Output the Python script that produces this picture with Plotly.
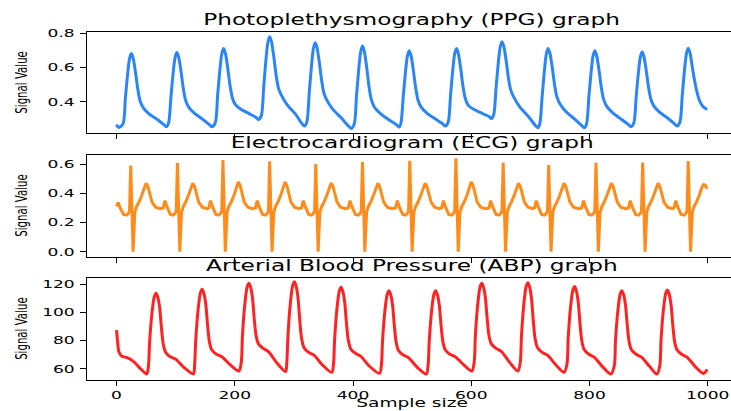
import plotly.graph_objects as go

# ---------------- data ----------------
PPG_POINTS = [
    (0, .268), (2, .256), (4, .252), (11, .273), (15, .424), (19, .569), (22, .651), (25, .681), (28, .656), (32, .574), (36, .474), (40, .405), (45, .367), (55, .331), (69, .298), (80, .268),
    (84, .256), (88, .278), (92, .428), (96, .575), (99, .657), (102, .687), (105, .662), (109, .579), (113, .478), (117, .408), (122, .370), (132, .334), (146, .299), (157, .268),
    (161, .256), (167, .279), (171, .438), (175, .592), (178, .678), (181, .710), (184, .684), (188, .599), (192, .495), (196, .423), (201, .384), (211, .356), (225, .331), (236, .310),
    (240, .298), (245, .322), (249, .490), (253, .654), (256, .745), (259, .779), (262, .752), (266, .663), (270, .554), (274, .479), (279, .438), (289, .381), (303, .328), (314, .272),
    (318, .260), (322, .284), (326, .454), (330, .618), (333, .710), (336, .744), (339, .717), (343, .630), (347, .523), (351, .449), (356, .409), (366, .357), (380, .308), (393, .258),
    (397, .246), (402, .270), (406, .438), (410, .600), (413, .691), (416, .725), (419, .697), (423, .605), (427, .491), (431, .413), (436, .371), (446, .334), (460, .298), (474, .266),
    (478, .254), (481, .276), (485, .431), (489, .582), (492, .666), (495, .697), (498, .671), (502, .586), (506, .482), (510, .410), (515, .371), (525, .335), (539, .302), (552, .272),
    (556, .260), (561, .283), (565, .440), (569, .593), (572, .679), (575, .710), (578, .684), (582, .598), (586, .492), (590, .420), (595, .380), (605, .356), (619, .333), (630, .316),
    (634, .304), (638, .326), (642, .482), (646, .634), (649, .719), (652, .750), (655, .724), (659, .641), (663, .537), (667, .467), (672, .428), (682, .371), (696, .318), (709, .262),
    (713, .250), (716, .273), (720, .434), (724, .590), (727, .678), (730, .710), (733, .684), (737, .601), (741, .499), (745, .428), (750, .390), (760, .345), (774, .303), (787, .262),
    (791, .250), (795, .272), (799, .429), (803, .581), (806, .666), (809, .697), (812, .671), (816, .588), (820, .485), (824, .415), (829, .376), (839, .338), (853, .302), (866, .268),
    (870, .256), (875, .278), (879, .430), (883, .577), (886, .660), (889, .690), (892, .665), (896, .583), (900, .483), (904, .414), (909, .376), (919, .339), (933, .304), (944, .272),
    (948, .260), (953, .283), (957, .441), (961, .594), (964, .680), (967, .712), (970, .686), (974, .600), (978, .520), (982, .455), (987, .400), (993, .370), (999, .357),
]

ECG_POINTS = [
    (0, .31), (3, .338), (6, .30), (9, .275), (12, .255), (17, .25), (20, .262), (22, .28),
    (24, .59), (28, .0), (31, .27), (34, .31), (38, .34), (43, .39), (47, .44), (50, .468), (53, .448), (56, .40), (60, .34), (66, .305), (74, .295),
    (79, .30), (82, .35), (85, .31), (88, .275), (91, .255), (96, .25), (99, .262), (101, .28),
    (103, .607), (107, .0), (110, .27), (113, .31), (117, .34), (122, .39), (126, .44), (129, .468), (132, .448), (135, .40), (139, .34), (145, .305), (153, .295),
    (156, .30), (159, .35), (162, .31), (165, .275), (168, .255), (173, .25), (176, .262), (178, .28),
    (180, .628), (184, .0), (187, .27), (190, .31), (194, .34), (199, .39), (203, .445), (206, .478), (209, .455), (212, .40), (216, .34), (222, .305), (230, .295),
    (235, .30), (238, .35), (241, .31), (244, .275), (247, .255), (252, .25), (255, .262), (257, .28),
    (259, .619), (263, .0), (266, .27), (269, .31), (273, .34), (278, .39), (282, .445), (285, .478), (288, .455), (291, .40), (295, .34), (301, .305), (309, .295),
    (313, .30), (316, .35), (319, .31), (322, .275), (325, .255), (330, .25), (333, .262), (335, .28),
    (337, .60), (341, .0), (344, .27), (347, .31), (351, .34), (356, .39), (360, .44), (363, .47), (366, .45), (369, .40), (373, .34), (379, .305), (387, .295),
    (392, .30), (395, .35), (398, .31), (401, .275), (404, .255), (409, .25), (412, .262), (414, .28),
    (416, .614), (420, .0), (423, .27), (426, .31), (430, .34), (435, .39), (439, .44), (442, .468), (445, .448), (448, .40), (452, .34), (458, .305), (466, .295),
    (472, .30), (475, .35), (478, .31), (481, .275), (484, .255), (489, .25), (492, .262), (494, .28),
    (496, .623), (500, .0), (503, .27), (506, .31), (510, .34), (515, .39), (519, .44), (522, .468), (525, .448), (528, .40), (532, .34), (538, .305), (546, .295),
    (550, .30), (553, .35), (556, .31), (559, .275), (562, .255), (567, .25), (570, .262), (572, .28),
    (574, .64), (578, .0), (581, .27), (584, .31), (588, .34), (593, .39), (597, .445), (600, .478), (603, .455), (606, .40), (610, .34), (616, .305), (624, .295),
    (630, .30), (633, .35), (636, .31), (639, .275), (642, .255), (647, .25), (650, .262), (652, .28),
    (654, .61), (658, .0), (661, .27), (664, .31), (668, .34), (673, .39), (677, .44), (680, .468), (683, .448), (686, .40), (690, .34), (696, .305), (704, .295),
    (707, .30), (710, .35), (713, .31), (716, .275), (719, .255), (724, .25), (727, .262), (729, .28),
    (731, .594), (735, .0), (738, .27), (741, .31), (745, .34), (750, .39), (754, .44), (757, .468), (760, .448), (763, .40), (767, .34), (773, .305), (781, .295),
    (787, .30), (790, .35), (793, .31), (796, .275), (799, .255), (804, .25), (807, .262), (809, .28),
    (811, .61), (815, .0), (818, .27), (821, .31), (825, .34), (830, .39), (834, .44), (837, .468), (840, .448), (843, .40), (847, .34), (853, .305), (861, .295),
    (866, .30), (869, .35), (872, .31), (875, .275), (878, .255), (883, .25), (886, .262), (888, .28),
    (890, .61), (894, .0), (897, .27), (900, .31), (904, .34), (909, .39), (913, .44), (916, .468), (919, .448), (922, .40), (926, .34), (932, .305), (940, .295),
    (943, .30), (946, .35), (949, .31), (952, .275), (955, .255), (960, .25), (963, .262), (965, .28),
    (967, .62), (971, .0), (974, .27), (977, .31), (981, .34), (986, .39), (990, .44), (993, .46), (996, .455), (999, .43),
]

ABP_POINTS = [
    (0, 87.4), (2, 78.5), (4, 72.0), (9, 68.8), (18, 67.8), (29, 65.0), (40, 60.3), (51, 56.2),
    (54, 61.9), (56, 79.1), (60, 99.7), (64, 111.2), (67, 113.5), (70, 110.4), (73, 103.2), (76, 88.8), (79, 77.5), (83, 71.7), (91, 68.5), (100, 66.8), (114, 60.9), (130, 56.2),
    (132, 62.2), (134, 80.2), (138, 101.9), (142, 113.9), (145, 116.3), (148, 113.1), (151, 105.7), (154, 90.9), (157, 79.4), (161, 73.4), (169, 70.2), (178, 68.5), (192, 62.9), (207, 58.4),
    (211, 64.6), (213, 83.3), (217, 105.7), (221, 118.1), (224, 120.6), (227, 117.4), (230, 110.0), (233, 95.2), (236, 83.6), (240, 77.6), (248, 74.4), (257, 72.1), (271, 64.2), (286, 57.9),
    (288, 64.3), (290, 83.4), (294, 106.4), (298, 119.1), (301, 121.7), (304, 118.2), (307, 110.2), (310, 94.1), (313, 81.6), (317, 75.1), (325, 71.6), (334, 69.6), (348, 62.8), (364, 57.4),
    (367, 63.4), (369, 81.5), (373, 103.2), (377, 115.3), (380, 117.7), (383, 114.4), (386, 106.9), (389, 92.0), (392, 80.3), (396, 74.2), (404, 70.9), (413, 68.9), (427, 62.1), (445, 56.7),
    (448, 62.6), (450, 80.1), (454, 101.2), (458, 113.0), (461, 115.3), (464, 112.1), (467, 104.8), (470, 90.2), (473, 78.8), (477, 72.9), (485, 69.7), (494, 67.8), (508, 61.3), (524, 56.2),
    (527, 62.1), (529, 79.8), (533, 101.1), (537, 112.9), (540, 115.3), (543, 112.1), (546, 104.9), (549, 90.5), (552, 79.2), (556, 73.4), (564, 70.2), (573, 68.5), (587, 62.9), (601, 58.4),
    (605, 64.6), (607, 83.3), (611, 105.7), (615, 118.1), (618, 120.6), (621, 117.4), (624, 110.0), (627, 95.2), (630, 83.6), (634, 77.6), (642, 74.4), (651, 72.2), (665, 64.5), (679, 58.4),
    (683, 64.7), (685, 83.4), (689, 106.0), (693, 118.5), (696, 121.0), (699, 117.5), (702, 109.6), (705, 93.8), (708, 81.5), (712, 75.1), (720, 71.6), (729, 69.6), (743, 62.8), (757, 57.4),
    (762, 63.5), (764, 81.7), (768, 103.6), (772, 115.8), (775, 118.2), (778, 114.8), (781, 107.2), (784, 91.8), (787, 79.8), (791, 73.6), (799, 70.2), (808, 68.2), (822, 61.5), (836, 56.2),
    (842, 62.1), (844, 79.8), (848, 101.1), (852, 112.9), (855, 115.3), (858, 112.1), (861, 104.9), (864, 90.5), (867, 79.2), (871, 73.4), (879, 70.2), (888, 68.2), (902, 61.5), (914, 56.2),
    (919, 62.2), (921, 80.0), (925, 101.5), (929, 113.4), (932, 115.8), (935, 112.6), (938, 105.3), (941, 90.7), (944, 79.3), (948, 73.4), (956, 70.2), (965, 68.2), (979, 61.5), (992, 56.7), (996, 57.5), (999, 59.5),
]

ppg_t = [p[0] for p in PPG_POINTS]
ppg_v = [p[1] for p in PPG_POINTS]
ecg_t = [p[0] for p in ECG_POINTS]
ecg_v = [p[1] for p in ECG_POINTS]
abp_t = [p[0] for p in ABP_POINTS]
abp_v = [p[1] for p in ABP_POINTS]

titles = ["Photoplethysmography (PPG) graph",
          "Electrocardiogram (ECG) graph",
          "Arterial Blood Pressure (ABP) graph"]
y_label = "Signal Value"
x_label = "Sample size"

x_ticks = [0, 200, 400, 600, 800, 1000]
x_ticktext = ["0", "200", "400", "600", "800", "1000"]
ppg_ticks = [0.4, 0.6, 0.8]
ppg_ticktext = ["0.4", "0.6", "0.8"]
ecg_ticks = [0.0, 0.2, 0.4, 0.6]
ecg_ticktext = ["0.0", "0.2", "0.4", "0.6"]
abp_ticks = [60, 80, 100, 120]
abp_ticktext = ["60", "80", "100", "120"]

# ---------------- styling ----------------
W, H = 731, 411
FONT = "DejaVu Sans"
INK = "#000000"
C_PPG = "#2a86f7"
C_ECG = "#ff8c1a"
C_ABP = "#ff2222"

# subplot boxes in pixels (top, bottom)
boxes = [(32.0, 133.3), (154.7, 256.7), (277.7, 380.0)]
doms = [[1 - b / H, 1 - t / H] for (t, b) in boxes]

fig = go.Figure()
for i, (xs, ys, col, shape) in enumerate([
        (ppg_t, ppg_v, C_PPG, "spline"),
        (ecg_t, ecg_v, C_ECG, "linear"),
        (abp_t, abp_v, C_ABP, "spline")]):
    sfx = "" if i == 0 else str(i + 1)
    fig.add_trace(go.Scatter(
        x=xs, y=ys, mode="lines",
        line=dict(color=col, width=3, shape=shape, smoothing=0.8),
        xaxis="x" + sfx, yaxis="y" + sfx, showlegend=False, hoverinfo="skip"))

xbase = dict(range=[-49.95, 1039.4], domain=[0, 1], showline=True, linecolor=INK,
             linewidth=1.2, mirror=True, ticks="outside", ticklen=5, tickwidth=1.2,
             tickcolor=INK, tickvals=x_ticks, ticktext=x_ticktext, showgrid=False,
             zeroline=False, automargin=False,
             tickfont=dict(family=FONT, size=11, color=INK))
ybase = dict(showline=True, linecolor=INK, linewidth=1.2, mirror=False,
             ticks="outside", ticklen=6, tickwidth=1.2, tickcolor=INK,
             showgrid=False, zeroline=False, ticklabelstandoff=3, automargin=False,
             tickfont=dict(family=FONT, size=11, color=INK))

yranges = [[0.218, 0.806], [-0.034, 0.664], [52.0, 124.5]]
yticks = [(ppg_ticks, ppg_ticktext), (ecg_ticks, ecg_ticktext), (abp_ticks, abp_ticktext)]

layout = dict(width=W, height=H, margin=dict(l=87, r=0, t=0, b=0, autoexpand=False),
              paper_bgcolor="white", plot_bgcolor="white",
              font=dict(family=FONT, color=INK), showlegend=False)
for i in range(3):
    sfx = "" if i == 0 else str(i + 1)
    xa = dict(xbase)
    xa["anchor"] = "y" + sfx
    xa["showticklabels"] = (i == 2)
    ya = dict(ybase)
    ya["anchor"] = "x" + sfx
    ya["domain"] = doms[i]
    ya["range"] = yranges[i]
    ya["tickvals"] = yticks[i][0]
    ya["ticktext"] = yticks[i][1]
    layout["xaxis" + sfx] = xa
    layout["yaxis" + sfx] = ya

xc = (411.9 - 87) / (W - 87)
ann = []
for i in range(3):
    ann.append(dict(text=titles[i], xref="paper", yref="paper", x=xc, y=doms[i][1],
                    xanchor="center", yanchor="bottom", yshift=1, showarrow=False,
                    font=dict(family=FONT, size=15, color=INK)))
    ann.append(dict(text=y_label, xref="paper", yref="paper", x=(22 - 87) / (W - 87),
                    y=(doms[i][0] + doms[i][1]) / 2, xanchor="center", yanchor="middle",
                    textangle=-90, showarrow=False,
                    font=dict(family=FONT, size=10.2, color=INK)))
ann.append(dict(text=x_label, xref="paper", yref="paper", x=xc, y=0,
                xanchor="center", yanchor="bottom", showarrow=False, borderpad=0,
                font=dict(family=FONT, size=12, color=INK)))
layout["annotations"] = ann
fig.update_layout(**layout)

# remove the page margin, then widen the text glyphs like the (horizontally stretched) reference
stretch_js = """
document.documentElement.style.margin = '0';
document.body.style.margin = '0';
document.body.style.padding = '0';
var gd = document.getElementById('{plot_id}');
var K = 1.55;
gd.querySelectorAll('svg.main-svg').forEach(function(svg){
  var sr = svg.getBoundingClientRect();
  svg.querySelectorAll('text').forEach(function(el){
    var r = el.getBoundingClientRect();
    if (!r.width) return;
    var a = el.getAttribute('text-anchor') || 'start';
    var cx = (a === 'end') ? r.right : (a === 'start' ? r.left : (r.left + r.right) / 2);
    cx -= sr.left;
    var P = el.parentNode.getCTM();
    var tl = el.transform.baseVal.consolidate();
    var T = tl ? tl.matrix : svg.createSVGMatrix();
    var S = svg.createSVGMatrix().translate(cx, 0).scaleNonUniform(K, 1).translate(-cx, 0);
    var M = P.inverse().multiply(S).multiply(P).multiply(T);
    el.setAttribute('transform', 'matrix(' + [M.a, M.b, M.c, M.d, M.e, M.f].join(',') + ')');
  });
});
"""

fig.write_html("out.html", config=dict(displayModeBar=False, responsive=False),
               post_script=stretch_js)
